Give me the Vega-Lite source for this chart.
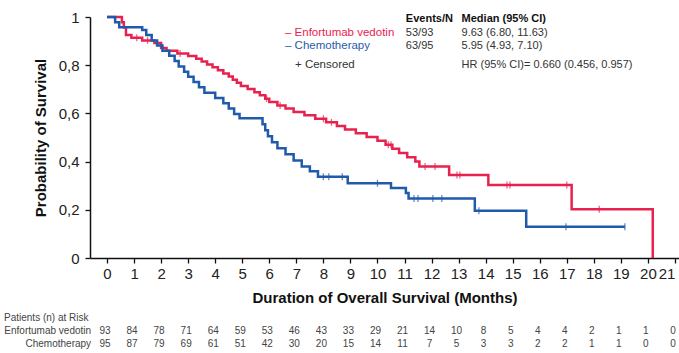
{
  "$schema": "https://vega.github.io/schema/vega-lite/v6.json",
  "width": 589,
  "height": 241,
  "autosize": {"type": "none"},
  "padding": {"left": 90, "top": 17, "right": 0, "bottom": 95},
  "config": {"font": "Liberation Sans", "view": {"stroke": null}},
  "datasets": {
    "curves": [
      {"arm": "Enfortumab vedotin", "t": 0, "s": 1.0},
      {"arm": "Enfortumab vedotin", "t": 0.55, "s": 0.978},
      {"arm": "Enfortumab vedotin", "t": 0.62, "s": 0.957},
      {"arm": "Enfortumab vedotin", "t": 0.7, "s": 0.925},
      {"arm": "Enfortumab vedotin", "t": 0.9, "s": 0.914},
      {"arm": "Enfortumab vedotin", "t": 1.3, "s": 0.903},
      {"arm": "Enfortumab vedotin", "t": 1.75, "s": 0.892},
      {"arm": "Enfortumab vedotin", "t": 2.0, "s": 0.871},
      {"arm": "Enfortumab vedotin", "t": 2.2, "s": 0.86},
      {"arm": "Enfortumab vedotin", "t": 2.6, "s": 0.849},
      {"arm": "Enfortumab vedotin", "t": 3.0, "s": 0.838},
      {"arm": "Enfortumab vedotin", "t": 3.3, "s": 0.827},
      {"arm": "Enfortumab vedotin", "t": 3.5, "s": 0.815},
      {"arm": "Enfortumab vedotin", "t": 3.7, "s": 0.803},
      {"arm": "Enfortumab vedotin", "t": 3.9, "s": 0.791},
      {"arm": "Enfortumab vedotin", "t": 4.1, "s": 0.779},
      {"arm": "Enfortumab vedotin", "t": 4.3, "s": 0.766},
      {"arm": "Enfortumab vedotin", "t": 4.5, "s": 0.753},
      {"arm": "Enfortumab vedotin", "t": 4.65, "s": 0.74},
      {"arm": "Enfortumab vedotin", "t": 4.8, "s": 0.727},
      {"arm": "Enfortumab vedotin", "t": 4.95, "s": 0.714},
      {"arm": "Enfortumab vedotin", "t": 5.2, "s": 0.701},
      {"arm": "Enfortumab vedotin", "t": 5.45, "s": 0.688},
      {"arm": "Enfortumab vedotin", "t": 5.65, "s": 0.675},
      {"arm": "Enfortumab vedotin", "t": 5.85, "s": 0.661},
      {"arm": "Enfortumab vedotin", "t": 6.0, "s": 0.647},
      {"arm": "Enfortumab vedotin", "t": 6.3, "s": 0.633},
      {"arm": "Enfortumab vedotin", "t": 6.6, "s": 0.62},
      {"arm": "Enfortumab vedotin", "t": 6.9, "s": 0.606},
      {"arm": "Enfortumab vedotin", "t": 7.3, "s": 0.592},
      {"arm": "Enfortumab vedotin", "t": 7.7, "s": 0.578},
      {"arm": "Enfortumab vedotin", "t": 8.1, "s": 0.563},
      {"arm": "Enfortumab vedotin", "t": 8.5, "s": 0.548},
      {"arm": "Enfortumab vedotin", "t": 8.8, "s": 0.533},
      {"arm": "Enfortumab vedotin", "t": 9.2, "s": 0.518},
      {"arm": "Enfortumab vedotin", "t": 9.6, "s": 0.502},
      {"arm": "Enfortumab vedotin", "t": 10.0, "s": 0.486},
      {"arm": "Enfortumab vedotin", "t": 10.3, "s": 0.47},
      {"arm": "Enfortumab vedotin", "t": 10.55, "s": 0.453},
      {"arm": "Enfortumab vedotin", "t": 10.8, "s": 0.436},
      {"arm": "Enfortumab vedotin", "t": 11.1, "s": 0.418},
      {"arm": "Enfortumab vedotin", "t": 11.4, "s": 0.4},
      {"arm": "Enfortumab vedotin", "t": 11.55, "s": 0.38},
      {"arm": "Enfortumab vedotin", "t": 12.65, "s": 0.344},
      {"arm": "Enfortumab vedotin", "t": 14.1, "s": 0.303},
      {"arm": "Enfortumab vedotin", "t": 17.18, "s": 0.202},
      {"arm": "Enfortumab vedotin", "t": 20.18, "s": 0},
      {"arm": "Chemotherapy", "t": 0, "s": 1.0},
      {"arm": "Chemotherapy", "t": 0.3, "s": 0.978},
      {"arm": "Chemotherapy", "t": 0.45, "s": 0.957},
      {"arm": "Chemotherapy", "t": 1.3, "s": 0.946},
      {"arm": "Chemotherapy", "t": 1.45, "s": 0.925},
      {"arm": "Chemotherapy", "t": 1.65, "s": 0.903},
      {"arm": "Chemotherapy", "t": 1.85, "s": 0.882},
      {"arm": "Chemotherapy", "t": 2.05, "s": 0.86},
      {"arm": "Chemotherapy", "t": 2.3, "s": 0.839},
      {"arm": "Chemotherapy", "t": 2.5, "s": 0.817},
      {"arm": "Chemotherapy", "t": 2.65, "s": 0.795},
      {"arm": "Chemotherapy", "t": 2.85, "s": 0.773},
      {"arm": "Chemotherapy", "t": 3.0, "s": 0.752},
      {"arm": "Chemotherapy", "t": 3.2, "s": 0.73},
      {"arm": "Chemotherapy", "t": 3.4, "s": 0.708},
      {"arm": "Chemotherapy", "t": 3.6, "s": 0.686},
      {"arm": "Chemotherapy", "t": 4.0, "s": 0.664},
      {"arm": "Chemotherapy", "t": 4.3, "s": 0.642},
      {"arm": "Chemotherapy", "t": 4.5, "s": 0.62},
      {"arm": "Chemotherapy", "t": 4.7, "s": 0.598},
      {"arm": "Chemotherapy", "t": 4.9, "s": 0.58},
      {"arm": "Chemotherapy", "t": 5.75, "s": 0.555},
      {"arm": "Chemotherapy", "t": 5.85, "s": 0.53},
      {"arm": "Chemotherapy", "t": 5.95, "s": 0.505},
      {"arm": "Chemotherapy", "t": 6.1, "s": 0.48},
      {"arm": "Chemotherapy", "t": 6.3, "s": 0.455},
      {"arm": "Chemotherapy", "t": 6.6, "s": 0.43},
      {"arm": "Chemotherapy", "t": 6.9, "s": 0.405},
      {"arm": "Chemotherapy", "t": 7.2, "s": 0.38},
      {"arm": "Chemotherapy", "t": 7.5, "s": 0.36},
      {"arm": "Chemotherapy", "t": 7.8, "s": 0.337},
      {"arm": "Chemotherapy", "t": 8.9, "s": 0.31},
      {"arm": "Chemotherapy", "t": 10.5, "s": 0.29},
      {"arm": "Chemotherapy", "t": 11.05, "s": 0.27},
      {"arm": "Chemotherapy", "t": 11.15, "s": 0.247},
      {"arm": "Chemotherapy", "t": 13.6, "s": 0.196},
      {"arm": "Chemotherapy", "t": 15.5, "s": 0.13},
      {"arm": "Chemotherapy", "t": 19.15, "s": 0.13}
    ],
    "censors": [
      {"arm": "Enfortumab vedotin", "t": 1.1, "s": 0.914},
      {"arm": "Enfortumab vedotin", "t": 1.5, "s": 0.903},
      {"arm": "Enfortumab vedotin", "t": 2.7, "s": 0.849},
      {"arm": "Enfortumab vedotin", "t": 5.9, "s": 0.661},
      {"arm": "Enfortumab vedotin", "t": 6.4, "s": 0.633},
      {"arm": "Enfortumab vedotin", "t": 8.0, "s": 0.578},
      {"arm": "Enfortumab vedotin", "t": 8.3, "s": 0.563},
      {"arm": "Enfortumab vedotin", "t": 10.4, "s": 0.47},
      {"arm": "Enfortumab vedotin", "t": 10.5, "s": 0.47},
      {"arm": "Enfortumab vedotin", "t": 11.76, "s": 0.38},
      {"arm": "Enfortumab vedotin", "t": 12.13, "s": 0.38},
      {"arm": "Enfortumab vedotin", "t": 12.94, "s": 0.344},
      {"arm": "Enfortumab vedotin", "t": 13.05, "s": 0.344},
      {"arm": "Enfortumab vedotin", "t": 14.79, "s": 0.303},
      {"arm": "Enfortumab vedotin", "t": 14.9, "s": 0.303},
      {"arm": "Enfortumab vedotin", "t": 17.0, "s": 0.303},
      {"arm": "Enfortumab vedotin", "t": 18.2, "s": 0.202},
      {"arm": "Chemotherapy", "t": 8.0, "s": 0.337},
      {"arm": "Chemotherapy", "t": 8.2, "s": 0.337},
      {"arm": "Chemotherapy", "t": 8.7, "s": 0.337},
      {"arm": "Chemotherapy", "t": 10.0, "s": 0.31},
      {"arm": "Chemotherapy", "t": 11.35, "s": 0.247},
      {"arm": "Chemotherapy", "t": 11.5, "s": 0.247},
      {"arm": "Chemotherapy", "t": 12.05, "s": 0.247},
      {"arm": "Chemotherapy", "t": 12.38, "s": 0.247},
      {"arm": "Chemotherapy", "t": 13.75, "s": 0.196},
      {"arm": "Chemotherapy", "t": 16.97, "s": 0.13},
      {"arm": "Chemotherapy", "t": 19.15, "s": 0.13}
    ],
    "risk": [
      {"arm": "Enfortumab vedotin", "month": 0, "n": 93},
      {"arm": "Enfortumab vedotin", "month": 1, "n": 84},
      {"arm": "Enfortumab vedotin", "month": 2, "n": 78},
      {"arm": "Enfortumab vedotin", "month": 3, "n": 71},
      {"arm": "Enfortumab vedotin", "month": 4, "n": 64},
      {"arm": "Enfortumab vedotin", "month": 5, "n": 59},
      {"arm": "Enfortumab vedotin", "month": 6, "n": 53},
      {"arm": "Enfortumab vedotin", "month": 7, "n": 46},
      {"arm": "Enfortumab vedotin", "month": 8, "n": 43},
      {"arm": "Enfortumab vedotin", "month": 9, "n": 33},
      {"arm": "Enfortumab vedotin", "month": 10, "n": 29},
      {"arm": "Enfortumab vedotin", "month": 11, "n": 21},
      {"arm": "Enfortumab vedotin", "month": 12, "n": 14},
      {"arm": "Enfortumab vedotin", "month": 13, "n": 10},
      {"arm": "Enfortumab vedotin", "month": 14, "n": 8},
      {"arm": "Enfortumab vedotin", "month": 15, "n": 5},
      {"arm": "Enfortumab vedotin", "month": 16, "n": 4},
      {"arm": "Enfortumab vedotin", "month": 17, "n": 4},
      {"arm": "Enfortumab vedotin", "month": 18, "n": 2},
      {"arm": "Enfortumab vedotin", "month": 19, "n": 1},
      {"arm": "Enfortumab vedotin", "month": 20, "n": 1},
      {"arm": "Enfortumab vedotin", "month": 21, "n": 0},
      {"arm": "Chemotherapy", "month": 0, "n": 95},
      {"arm": "Chemotherapy", "month": 1, "n": 87},
      {"arm": "Chemotherapy", "month": 2, "n": 79},
      {"arm": "Chemotherapy", "month": 3, "n": 69},
      {"arm": "Chemotherapy", "month": 4, "n": 61},
      {"arm": "Chemotherapy", "month": 5, "n": 51},
      {"arm": "Chemotherapy", "month": 6, "n": 42},
      {"arm": "Chemotherapy", "month": 7, "n": 30},
      {"arm": "Chemotherapy", "month": 8, "n": 20},
      {"arm": "Chemotherapy", "month": 9, "n": 15},
      {"arm": "Chemotherapy", "month": 10, "n": 14},
      {"arm": "Chemotherapy", "month": 11, "n": 11},
      {"arm": "Chemotherapy", "month": 12, "n": 7},
      {"arm": "Chemotherapy", "month": 13, "n": 5},
      {"arm": "Chemotherapy", "month": 14, "n": 3},
      {"arm": "Chemotherapy", "month": 15, "n": 3},
      {"arm": "Chemotherapy", "month": 16, "n": 2},
      {"arm": "Chemotherapy", "month": 17, "n": 2},
      {"arm": "Chemotherapy", "month": 18, "n": 1},
      {"arm": "Chemotherapy", "month": 19, "n": 1},
      {"arm": "Chemotherapy", "month": 20, "n": 0},
      {"arm": "Chemotherapy", "month": 21, "n": 0}
    ]
  },
  "layer": [
    {
      "data": {"name": "curves"},
      "mark": {"type": "line", "interpolate": "step-after", "strokeWidth": 2.5, "clip": false},
      "encoding": {
        "x": {
          "field": "t", "type": "quantitative",
          "scale": {"domain": [-0.63, 21.15], "nice": false, "zero": false},
          "axis": {
            "values": [0,1,2,3,4,5,6,7,8,9,10,11,12,13,14,15,16,17,18,19,20,21], "tickCount": 22,
            "grid": false, "labelFontSize": 15, "labelColor": "#222", "labelPadding": 3, "labelOverlap": false, "labelBound": false,
            "labelFlush": 8,
            "tickSize": 5, "tickColor": "#111", "domainColor": "#111", "domainWidth": 1.5, "tickWidth": 1.3,
            "title": "Duration of Overall Survival (Months)", "titleFontSize": 15, "titleFontWeight": "bold",
            "titleColor": "#111", "titlePadding": 9
          }
        },
        "y": {
          "field": "s", "type": "quantitative",
          "scale": {"domain": [0, 1], "nice": false},
          "axis": {
            "values": [0, 0.2, 0.4, 0.6, 0.8, 1], "tickCount": 6, "grid": false, "labelOverlap": false,
            "labelExpr": "datum.value == 0 ? '0' : datum.value == 1 ? '1' : replace(format(datum.value, '.1f'), '.', ',')",
            "labelFontSize": 15, "labelColor": "#222", "labelPadding": 6,
            "tickSize": 5, "tickColor": "#111", "domainColor": "#111", "domainWidth": 1.5, "tickWidth": 1.3,
            "title": "Probability of Survival", "titleFontSize": 15, "titleFontWeight": "bold",
            "titleColor": "#111", "titlePadding": 10
          }
        },
        "color": {
          "field": "arm", "type": "nominal",
          "scale": {"domain": ["Enfortumab vedotin", "Chemotherapy"], "range": ["#E8224F", "#1F5BAA"]},
          "legend": null
        }
      }
    },
    {
      "data": {"name": "censors"},
      "mark": {"type": "tick", "orient": "vertical", "size": 7, "thickness": 1.3},
      "encoding": {
        "x": {"field": "t", "type": "quantitative"},
        "y": {"field": "s", "type": "quantitative"},
        "color": {"field": "arm", "type": "nominal", "legend": null}
      }
    },
    {
      "data": {"values": [{"arm": "Enfortumab vedotin", "label": "– Enfortumab vedotin"}]},
      "mark": {"type": "text", "align": "left", "baseline": "middle", "fontSize": 11.5},
      "encoding": {
        "x": {"datum": 6.58}, "y": {"datum": 0.934},
        "text": {"field": "label"},
        "color": {"field": "arm", "type": "nominal", "legend": null}
      }
    },
    {
      "data": {"values": [{"arm": "Chemotherapy", "label": "– Chemotherapy"}]},
      "mark": {"type": "text", "align": "left", "baseline": "middle", "fontSize": 11.5},
      "encoding": {
        "x": {"datum": 6.58}, "y": {"datum": 0.879},
        "text": {"field": "label"},
        "color": {"field": "arm", "type": "nominal", "legend": null}
      }
    },
    {
      "data": {"values": [{"label": "+ Censored"}]},
      "mark": {"type": "text", "align": "left", "baseline": "middle", "fontSize": 11.5, "color": "#333"},
      "encoding": {"x": {"datum": 6.95}, "y": {"datum": 0.801}, "text": {"field": "label"}}
    },
    {
      "data": {"values": [{"label": "Events/N"}]},
      "mark": {"type": "text", "align": "left", "baseline": "middle", "fontSize": 11, "fontWeight": "bold", "color": "#111"},
      "encoding": {"x": {"datum": 11.05}, "y": {"datum": 0.99}, "text": {"field": "label"}}
    },
    {
      "data": {"values": [{"label": "Median (95% CI)"}]},
      "mark": {"type": "text", "align": "left", "baseline": "middle", "fontSize": 11, "fontWeight": "bold", "color": "#111"},
      "encoding": {"x": {"datum": 13.11}, "y": {"datum": 0.99}, "text": {"field": "label"}}
    },
    {
      "data": {"values": [{"label": "53/93"}]},
      "mark": {"type": "text", "align": "left", "baseline": "middle", "fontSize": 11, "color": "#333"},
      "encoding": {"x": {"datum": 11.05}, "y": {"datum": 0.934}, "text": {"field": "label"}}
    },
    {
      "data": {"values": [{"label": "63/95"}]},
      "mark": {"type": "text", "align": "left", "baseline": "middle", "fontSize": 11, "color": "#333"},
      "encoding": {"x": {"datum": 11.05}, "y": {"datum": 0.879}, "text": {"field": "label"}}
    },
    {
      "data": {"values": [{"label": "9.63 (6.80, 11.63)"}]},
      "mark": {"type": "text", "align": "left", "baseline": "middle", "fontSize": 11, "color": "#333"},
      "encoding": {"x": {"datum": 13.11}, "y": {"datum": 0.934}, "text": {"field": "label"}}
    },
    {
      "data": {"values": [{"label": "5.95 (4.93, 7.10)"}]},
      "mark": {"type": "text", "align": "left", "baseline": "middle", "fontSize": 11, "color": "#333"},
      "encoding": {"x": {"datum": 13.11}, "y": {"datum": 0.879}, "text": {"field": "label"}}
    },
    {
      "data": {"values": [{"label": "HR (95% CI)= 0.660 (0.456, 0.957)"}]},
      "mark": {"type": "text", "align": "left", "baseline": "middle", "fontSize": 11, "color": "#333"},
      "encoding": {"x": {"datum": 13.11}, "y": {"datum": 0.801}, "text": {"field": "label"}}
    },
    {
      "data": {"values": [{"label": "Patients (n) at Risk"}]},
      "mark": {"type": "text", "align": "left", "baseline": "middle", "fontSize": 10, "color": "#444"},
      "encoding": {"x": {"datum": -3.81}, "y": {"datum": -0.249}, "text": {"field": "label"}}
    },
    {
      "data": {"values": [{"label": "Enfortumab vedotin"}]},
      "mark": {"type": "text", "align": "right", "baseline": "middle", "fontSize": 10, "color": "#444"},
      "encoding": {"x": {"datum": -0.59}, "y": {"datum": -0.303}, "text": {"field": "label"}}
    },
    {
      "data": {"values": [{"label": "Chemotherapy"}]},
      "mark": {"type": "text", "align": "right", "baseline": "middle", "fontSize": 10, "color": "#444"},
      "encoding": {"x": {"datum": -0.59}, "y": {"datum": -0.357}, "text": {"field": "label"}}
    },
    {
      "data": {"name": "risk"},
      "transform": [{"filter": "datum.arm == 'Enfortumab vedotin'"}],
      "mark": {"type": "text", "align": "center", "baseline": "middle", "fontSize": 10, "color": "#444", "dx": -2},
      "encoding": {"x": {"field": "month", "type": "quantitative"}, "y": {"datum": -0.303}, "text": {"field": "n", "type": "quantitative"}}
    },
    {
      "data": {"name": "risk"},
      "transform": [{"filter": "datum.arm == 'Chemotherapy'"}],
      "mark": {"type": "text", "align": "center", "baseline": "middle", "fontSize": 10, "color": "#444", "dx": -2},
      "encoding": {"x": {"field": "month", "type": "quantitative"}, "y": {"datum": -0.357}, "text": {"field": "n", "type": "quantitative"}}
    }
  ]
}
